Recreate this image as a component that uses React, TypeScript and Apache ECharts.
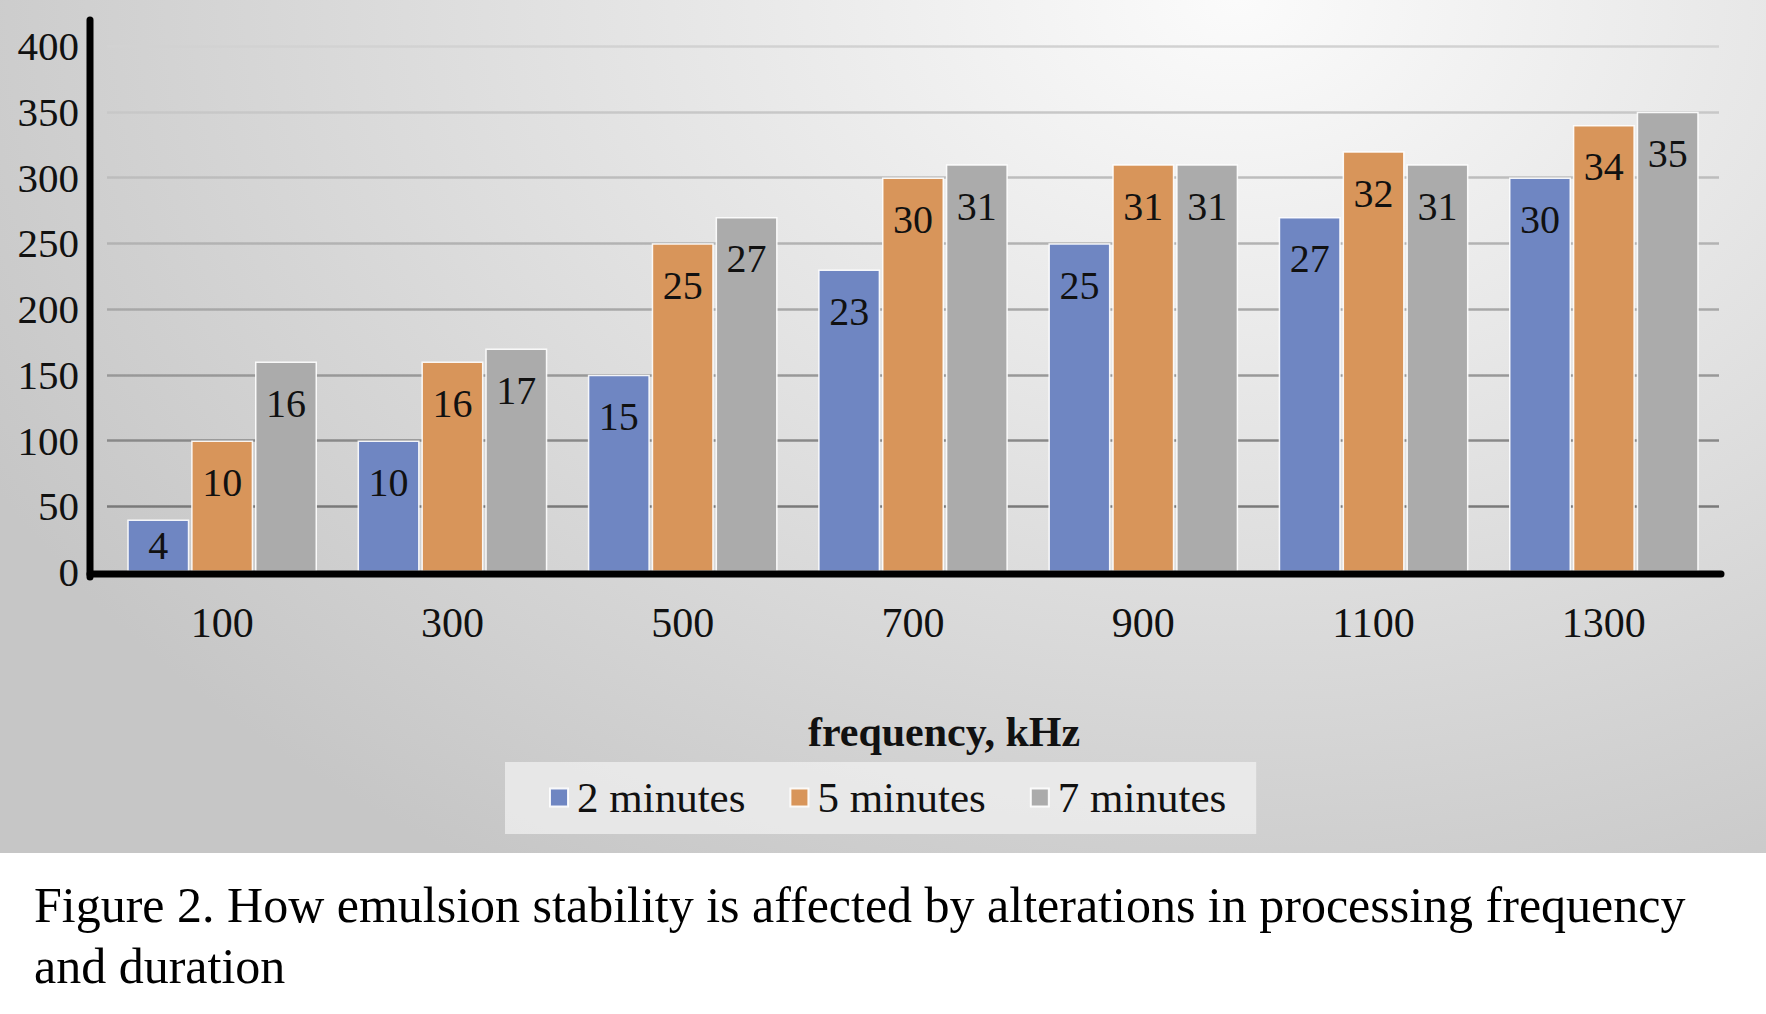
import React, { useEffect, useRef } from "react";
import * as echarts from "echarts";

const categories = ["100", "300", "500", "700", "900", "1100", "1300"];
const seriesNames = ["2 minutes", "5 minutes", "7 minutes"];
const values2 = [40, 100, 150, 230, 250, 270, 300];
const values5 = [100, 160, 250, 300, 310, 320, 340];
const values7 = [160, 170, 270, 310, 310, 310, 350];
const labels2 = ["4", "10", "15", "23", "25", "27", "30"];
const labels5 = ["10", "16", "25", "30", "31", "32", "34"];
const labels7 = ["16", "17", "27", "31", "31", "31", "35"];
const yMin = 0;
const yMax = 400;
const yStep = 50;
const xTitle = "frequency, kHz";
const captionLines = [
  "Figure 2. How emulsion stability is affected by alterations in processing frequency",
  "and duration",
];

const W = 1766;
const H = 1014;
const G_LEFT = 107;
const G_RIGHT = 47;
const G_TOP = 46;
const G_HEIGHT = 526;
const FONT = "'Liberation Serif', 'Times New Roman', serif";
const colors = ["#6f86c2", "#d8955a", "#ababab"];

export default function App() {
  const ref = useRef<HTMLDivElement>(null);
  useEffect(() => {
    if (!ref.current) return;
    const chart = echarts.init(ref.current, undefined, { renderer: "svg", width: W, height: H });
    const allValues = [values2, values5, values7];
    const allLabels = [labels2, labels5, labels7];
    const y0 = G_TOP + G_HEIGHT;
    const option: any = {
      animation: false,
      backgroundColor: "transparent",
      textStyle: { fontFamily: FONT },
      grid: { left: G_LEFT, right: G_RIGHT, top: G_TOP, height: G_HEIGHT },
      legend: {
        data: seriesNames,
        left: 505,
        top: 762,
        backgroundColor: "rgba(240,240,240,0.75)",
        padding: [14, 30, 15, 44],
        itemGap: 44,
        itemWidth: 18,
        itemHeight: 18,
        icon: "rect",
        textStyle: { fontFamily: FONT, fontSize: 43, color: "#111", padding: [0, 0, 0, 4] },
      },
      xAxis: {
        type: "category",
        data: categories,
        axisLine: { show: false },
        axisTick: { show: false },
        axisLabel: { fontFamily: FONT, fontSize: 42, color: "#111", margin: 30 },
        name: xTitle,
        nameLocation: "middle",
        nameGap: 139,
        nameTextStyle: {
          fontFamily: FONT,
          fontSize: 42,
          fontWeight: "bold",
          color: "#111",
          padding: [0, 0, 0, 62],
        },
      },
      yAxis: {
        type: "value",
        min: yMin,
        max: yMax,
        interval: yStep,
        axisLine: { show: false },
        axisTick: { show: false },
        axisLabel: { fontFamily: FONT, fontSize: 41, color: "#111", margin: 28 },
        splitLine: {
          lineStyle: {
            width: 2.5,
            color: {
              type: "linear",
              x: 0,
              y: G_TOP,
              x2: 0,
              y2: y0,
              global: true,
              colorStops: [
                { offset: 0, color: "#d2d2d2" },
                { offset: 0.5, color: "#a8a8a8" },
                { offset: 1, color: "#6a6a6a" },
              ],
            },
          },
        },
      },
      series: seriesNames.map((name, si) => ({
        name,
        type: "bar",
        barWidth: 62,
        barGap: "3%",
        itemStyle: { color: colors[si], borderColor: "rgba(255,255,255,0.9)", borderWidth: 1.5 },
        label: {
          show: true,
          position: "insideTop",
          distance: 22,
          fontFamily: FONT,
          fontSize: 40,
          color: "#111",
          formatter: (p: any) => allLabels[si][p.dataIndex],
        },
        data: allValues[si].map((v) =>
          v < 60 ? { value: v, label: { position: "inside" } } : v
        ),
      })),
      graphic: [
        {
          type: "line",
          z: 100,
          shape: { x1: 90, y1: 20, x2: 90, y2: y0 + 5 },
          style: { stroke: "#000", lineWidth: 7, lineCap: "round" },
        },
        {
          type: "line",
          z: 100,
          shape: { x1: 90, y1: y0 + 2, x2: W - G_RIGHT + 2, y2: y0 + 2 },
          style: { stroke: "#000", lineWidth: 7, lineCap: "round" },
        },
        ...captionLines.map((t, i) => ({
          type: "text",
          left: 34,
          top: 880 + i * 61,
          style: { text: t, font: `50px ${FONT}`, fill: "#000" },
        })),
      ],
    };
    chart.setOption(option);
    return () => chart.dispose();
  }, []);
  return (
    <div style={{ position: "fixed", left: 0, top: 0, width: W, height: H, background: "#fff" }}>
      <div
        style={{
          position: "absolute",
          left: 0,
          top: 0,
          width: W,
          height: 853,
          background:
            "radial-gradient(ellipse 80% 120% at 70% 0%, #fbfbfb 0%, #e6e6e6 40%, #d6d6d6 70%, #c6c6c6 100%)",
        }}
      />
      <div ref={ref} style={{ position: "absolute", left: 0, top: 0, width: W, height: H }} />
    </div>
  );
}
